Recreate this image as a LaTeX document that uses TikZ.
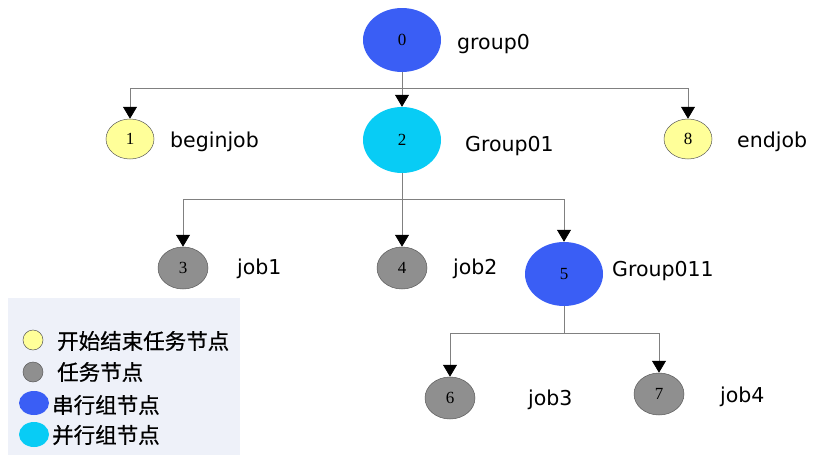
\documentclass[tikz,border=0pt]{standalone}
\usepackage{fontspec}
\setmainfont{DejaVu Sans}
\newfontfamily\numfont{Liberation Serif}
\newfontfamily\cjk[FakeBold=0.7]{Noto Sans CJK SC}
\usetikzlibrary{arrows.meta,shapes.geometric}

\definecolor{serialblue}{RGB}{58,94,245}
\definecolor{parcyan}{RGB}{8,204,245}
\definecolor{endyellow}{RGB}{255,255,153}
\definecolor{taskgray}{RGB}{143,143,143}
\definecolor{rimgray}{RGB}{90,90,90}
\definecolor{wiregray}{RGB}{128,128,128}
\definecolor{legendbg}{RGB}{238,241,249}

\tikzset{
  nd/.style={ellipse, inner sep=0pt, font=\numfont\fontsize{17}{17}\selectfont},
  serial/.style={nd, fill=serialblue, minimum width=78pt, minimum height=64pt},
  parallel/.style={nd, fill=parcyan, minimum width=78pt, minimum height=66pt},
  startend/.style={nd, fill=endyellow, draw=rimgray, line width=0.5pt, minimum width=48pt, minimum height=40pt},
  task/.style={nd, fill=taskgray, draw=rimgray, line width=0.5pt, minimum width=50pt, minimum height=42pt},
  lbl/.style={anchor=west, inner sep=0pt, font=\fontsize{20.5}{20.5}\selectfont},
  conn/.style={draw=wiregray, line width=0.8pt, -{Triangle[width=14pt,length=12pt,fill=black,color=black]}},
  wire/.style={draw=wiregray, line width=0.8pt},
  legtxt/.style={anchor=west, inner sep=0pt, font=\cjk\fontsize{21.5}{21.5}\selectfont},
}

\begin{document}
\begin{tikzpicture}[x=1pt, y=-1pt]
  \useasboundingbox (0,0) rectangle (814,455);

  % legend panel
  \fill[legendbg] (8,298) rectangle (240,455);
  \node[ellipse, fill=endyellow, draw=rimgray, line width=0.5pt, minimum width=20pt, minimum height=20pt, inner sep=0pt] (ly) at (33,340) {};
  \node[ellipse, fill=taskgray, draw=rimgray, line width=0.5pt, minimum width=20pt, minimum height=20pt, inner sep=0pt] (lg) at (33,372) {};
  \node[ellipse, fill=serialblue, minimum width=30pt, minimum height=24pt, inner sep=0pt] (lb) at (34,403) {};
  \node[ellipse, fill=parcyan, minimum width=30pt, minimum height=25pt, inner sep=0pt] (lc) at (34,434.5) {};
  \node[legtxt] (tly) at (57,341) {开始结束任务节点};
  \node[legtxt] (tlg) at (57,372) {任务节点};
  \node[legtxt] (tlb) at (52,405) {串行组节点};
  \node[legtxt] (tlc) at (52,435) {并行组节点};

  % tree nodes
  \node[serial]   (n0) at (402,40)  {0};
  \node[startend] (n1) at (130,139) {1};
  \node[parallel] (n2) at (402,140) {2};
  \node[startend] (n8) at (688,139) {8};
  \node[task]     (n3) at (183,268) {3};
  \node[task]     (n4) at (402,268) {4};
  \node[serial]   (n5) at (564,274) {5};
  \node[task]     (n6) at (450,398) {6};
  \node[task]     (n7) at (659,394) {7};

  % labels
  \node[lbl] (l0) at (457,44)  {group0};
  \node[lbl] (l1) at (170,142) {beginjob};
  \node[lbl] (l2) at (465,146) {Group01};
  \node[lbl] (l8) at (737,142) {endjob};
  \node[lbl] (l3) at (237,269) {job1};
  \node[lbl] (l4) at (453,269) {job2};
  \node[lbl] (l5) at (612,271) {Group011};
  \node[lbl] (l6) at (528,400) {job3};
  \node[lbl] (l7) at (720,397) {job4};

  % bus junctions
  \coordinate (b0) at (402,88);
  \coordinate (b1) at (402,199);
  \coordinate (b2) at (564,333);

  % connectors
  \draw[wire] (n0.south) -- (b0);
  \draw[conn] (b0) -| (n1.north);
  \draw[conn] (b0) -- (n2.north);
  \draw[conn] (b0) -| (n8.north);

  \draw[wire] (n2.south) -- (b1);
  \draw[conn] (b1) -| (n3.north);
  \draw[conn] (b1) -- (n4.north);
  \draw[conn] (b1) -| (n5.north);

  \draw[wire] (n5.south) -- (b2);
  \draw[conn] (b2) -| (n6.north);
  \draw[conn] (b2) -| (n7.north);
\end{tikzpicture}
\end{document}
